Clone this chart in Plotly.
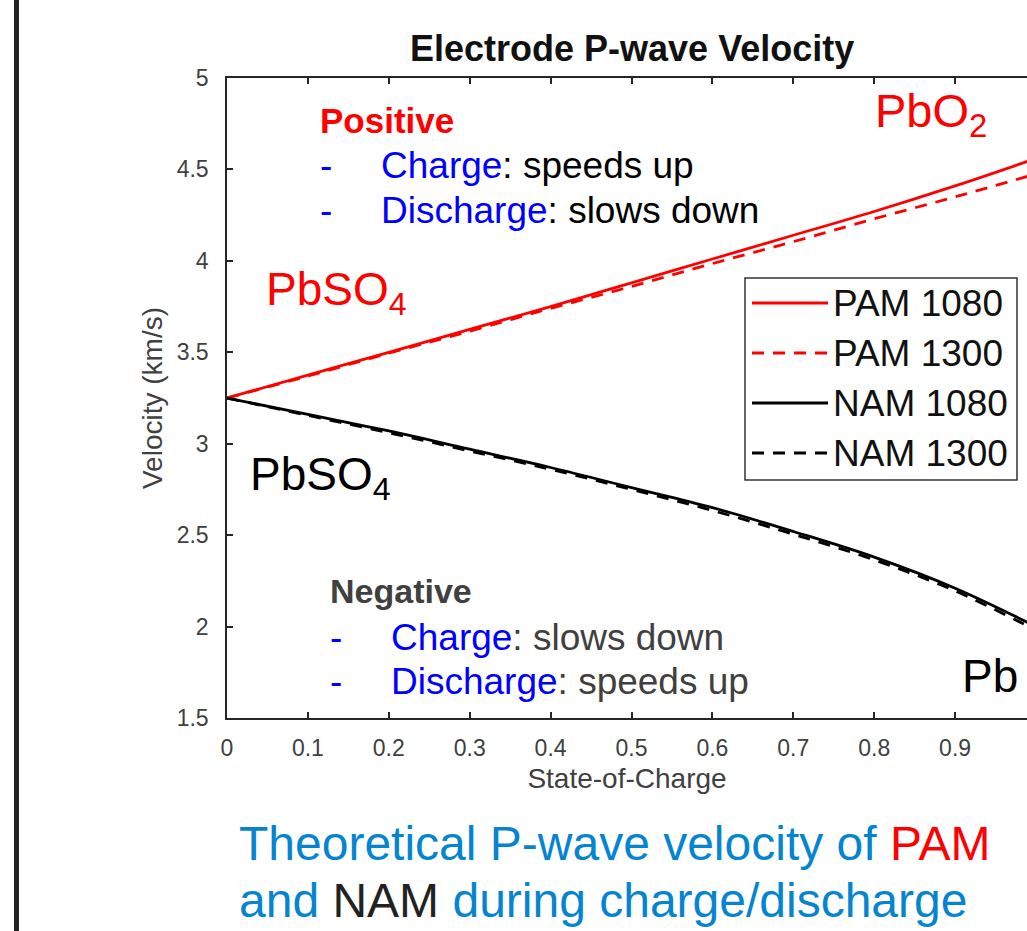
import plotly.graph_objects as go

# State-of-charge samples and P-wave velocities (km/s)
soc = [0.0, 0.1, 0.2, 0.3, 0.4, 0.5, 0.6, 0.7, 0.8, 0.9, 1.0]
pam_1080 = [3.25, 3.375, 3.50, 3.625, 3.75, 3.88, 4.01, 4.14, 4.27, 4.41, 4.56]
pam_1300 = [3.25, 3.37, 3.495, 3.615, 3.74, 3.86, 3.985, 4.105, 4.23, 4.35, 4.475]
nam_1080 = [3.25, 3.16, 3.07, 2.97, 2.87, 2.76, 2.65, 2.52, 2.38, 2.21, 2.00]
nam_1300 = [3.25, 3.155, 3.06, 2.96, 2.86, 2.75, 2.635, 2.505, 2.365, 2.195, 1.98]

series_names = ["PAM 1080", "PAM 1300", "NAM 1080", "NAM 1300"]
series_values = [pam_1080, pam_1300, nam_1080, nam_1300]
series_colors = ["#ff0000", "#ff0000", "#000000", "#000000"]
series_dash = ["solid", "12px,9px", "solid", "12px,9px"]

x_ticks = [0, 0.1, 0.2, 0.3, 0.4, 0.5, 0.6, 0.7, 0.8, 0.9]
y_ticks = [1.5, 2, 2.5, 3, 3.5, 4, 4.5, 5]

FONT = "Liberation Sans, Arial, sans-serif"
W, H = 1027, 931
L, T, R, B = 227, 78, 0, 213
PW, PH = W - L - R, H - T - B
X_PER_UNIT = 809.0  # pixels per unit of state-of-charge
BLUE = "#0000ff"
CAPTION = "#0585d0"
GRAY = "#404040"


def px(x):
    return (x - L) / PW


def py(y):
    return (H - B - y) / PH


fig = go.Figure()
for name, vals, col, dash in zip(series_names, series_values, series_colors, series_dash):
    fig.add_trace(go.Scatter(
        x=soc, y=vals, name=name, mode="lines",
        line=dict(color=col, width=2.8, dash=dash, shape="spline"),
        showlegend=False,
    ))

ann = []


def text(x, y, s, size, color="#000", bold=False, anchor="left"):
    if bold:
        s = "<b>" + s + "</b>"
    ann.append(dict(x=px(x), y=py(y), xref="paper", yref="paper", text=s,
                    showarrow=False, xanchor=anchor, yanchor="middle",
                    font=dict(family=FONT, size=size, color=color)))


# Title
text(632, 48, "Electrode P-wave Velocity", 36, "#111", bold=True, anchor="center")

# Positive electrode notes
text(318, 121, "Positive", 35, "#ff0000", bold=True)
text(318, 166, "-", 37, BLUE)
text(379, 166, f"<span style='color:{BLUE}'>Charge</span>: speeds up", 37, "#000")
text(318, 210, "-", 37, BLUE)
text(379, 210, f"<span style='color:{BLUE}'>Discharge</span>: slows down", 37, "#000")

# Negative electrode notes
text(328, 591, "Negative", 34, GRAY, bold=True)
text(328, 637, "-", 37, BLUE)
text(389, 637, f"<span style='color:{BLUE}'>Charge</span>: slows down", 37, GRAY)
text(328, 681, "-", 37, BLUE)
text(389, 681, f"<span style='color:{BLUE}'>Discharge</span>: speeds up", 37, GRAY)

# Phase labels
text(264, 292, "PbSO<sub>4</sub>", 46, "#ff0000")
text(248, 477, "PbSO<sub>4</sub>", 46, "#000")
text(873, 114, "PbO<sub>2</sub>", 47, "#ff0000")
text(960, 676, "Pb", 46, "#000")

# Caption
text(237, 843, f"<span style='color:{CAPTION}'>Theoretical P-wave velocity of </span>"
     f"<span style='color:#ff0000'>PAM</span>", 48, CAPTION)
text(237, 900, f"<span style='color:{CAPTION}'>and </span><span style='color:#222'>NAM</span>"
     f"<span style='color:{CAPTION}'> during charge/discharge</span>", 48, CAPTION)

# Legend box with line samples
shapes = [dict(type="rect", xref="paper", yref="paper",
               x0=px(745), x1=px(1017), y0=py(278), y1=py(480),
               line=dict(color="#333", width=1.5), fillcolor="white", layer="above")]
for i, (name, col, dash) in enumerate(zip(series_names, series_colors, series_dash)):
    yy = 303 + 50 * i
    shapes.append(dict(type="line", xref="paper", yref="paper",
                       x0=px(752), x1=px(828), y0=py(yy), y1=py(yy),
                       line=dict(color=col, width=2.8, dash=dash), layer="above"))
    text(831, yy, name, 37, "#111")

# Dark divider on the left edge
shapes.append(dict(type="rect", xref="paper", yref="paper",
                   x0=px(14), x1=px(19), y0=py(H), y1=py(0),
                   line=dict(width=0), fillcolor="#222"))

fig.update_layout(
    width=W, height=H,
    margin=dict(l=L, r=R, t=T, b=B, pad=0),
    paper_bgcolor="white", plot_bgcolor="white",
    annotations=ann, shapes=shapes,
    font=dict(family=FONT, color=GRAY),
)
fig.update_xaxes(
    range=[0, PW / X_PER_UNIT], tickvals=x_ticks, ticktext=[f"{v:g}" for v in x_ticks],
    ticks="inside", ticklen=6, tickwidth=1.5, tickcolor="#262626",
    showline=True, linecolor="#262626", linewidth=1.5, mirror="ticks",
    showgrid=False, zeroline=False, ticklabelstandoff=9,
    tickfont=dict(family=FONT, size=23, color=GRAY),
    title=dict(text="State-of-Charge", font=dict(family=FONT, size=28, color=GRAY), standoff=8),
)
fig.update_yaxes(
    range=[1.5, 5], tickvals=y_ticks, ticktext=[f"{v:g}" for v in y_ticks],
    ticks="inside", ticklen=6, tickwidth=1.5, tickcolor="#262626",
    showline=True, linecolor="#262626", linewidth=1.5, mirror=False,
    showgrid=False, zeroline=False, ticklabelstandoff=12,
    tickfont=dict(family=FONT, size=23, color=GRAY),
    title=dict(text="Velocity (km/s)", font=dict(family=FONT, size=28, color=GRAY), standoff=6),
)

fig.write_html("out.html")
